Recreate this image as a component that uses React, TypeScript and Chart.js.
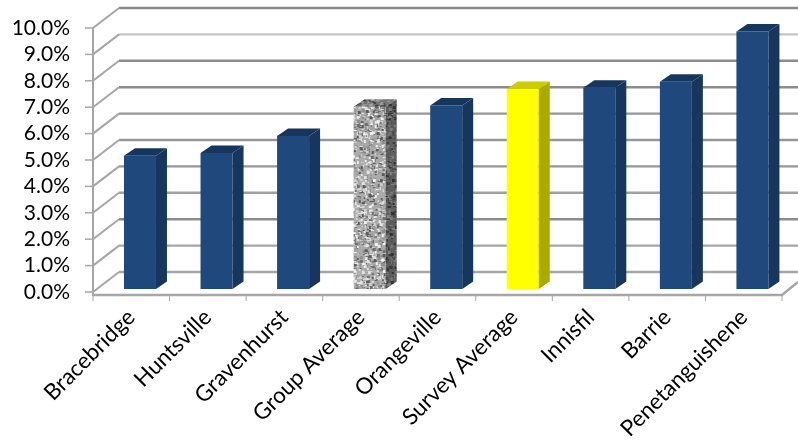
import React, { useEffect, useRef } from "react";
import { Chart, registerables } from "chart.js";

Chart.register(...registerables);

const categories = ["Bracebridge", "Huntsville", "Gravenhurst", "Group Average", "Orangeville", "Survey Average", "Innisfil", "Barrie", "Penetanguishene"];
const values = [5.05, 5.15, 5.8, 6.9, 6.95, 7.58, 7.62, 7.85, 9.75];
const frontColors = ["#1F497D", "#1F497D", "#1F497D", "granite", "#1F497D", "#FFFF00", "#1F497D", "#1F497D", "#1F497D"];
const sideColors = ["#17365D", "#17365D", "#17365D", "granite", "#17365D", "#AAAA00", "#17365D", "#17365D", "#17365D"];
const topColors = ["#17365D", "#17365D", "#17365D", "granite", "#17365D", "#CCCC00", "#17365D", "#17365D", "#17365D"];
const gridColors = ["#A6A6A6", "#A6A6A6", "#8C8C8C", "#A0A0A0", "#969696", "#969696", "#969696", "#8C8C8C", "#8C8C8C", "#C4C4C4", "#8C8C8C"];

const FONT = "Lato, Carlito, Calibri, sans-serif";
const WALL_DX = 26;
const WALL_DY = 20;
const BAR_DX = 8.7;
const BAR_DY = 3;
const SIDE_DX = 11;
const SIDE_DY = 7.5;

function makeGranite(): HTMLCanvasElement {
  const tile = document.createElement("canvas");
  tile.width = 97;
  tile.height = 211;
  const c = tile.getContext("2d")!;
  c.fillStyle = "#ABABAB";
  c.fillRect(0, 0, 97, 211);
  const shades = ["#6E6E6E", "#E2E2E2", "#8E8E8E", "#D0D0D0", "#F0F0F0", "#5A5A5A", "#A0A0A0"];
  let s = 17;
  for (let i = 0; i < 3600; i++) {
    s = (s * 1103 + 12345) % 65536;
    const x = (s >> 3) % 97;
    s = (s * 1103 + 12345) % 65536;
    const y = (s >> 3) % 211;
    s = (s * 1103 + 12345) % 65536;
    const k = s >> 4;
    c.fillStyle = shades[k % shades.length];
    c.fillRect(x, y, 1 + (k % 3), 1 + ((k >> 2) % 3));
  }
  return tile;
}

export default function App() {
  const ref = useRef<HTMLCanvasElement>(null);

  useEffect(() => {
    document.body.style.margin = "0";
    const canvas = ref.current!;
    const ctx0 = canvas.getContext("2d")!;
    const pattern = ctx0.createPattern(makeGranite(), "repeat")!;

    const wallPlugin = {
      id: "wall3d",
      beforeDatasetsDraw(chart: any) {
        const { ctx, scales } = chart;
        const y = scales.y;
        const x = scales.x;
        const left = x.left;
        const right = x.right;
        const floor = y.getPixelForValue(0) + 3;
        ctx.save();
        ctx.lineCap = "butt";
        y.ticks.forEach((t: any, i: number) => {
          const py = y.getPixelForValue(t.value);
          ctx.strokeStyle = gridColors[i];
          ctx.lineWidth = 2.4;
          ctx.beginPath();
          ctx.moveTo(left + WALL_DX, py - WALL_DY);
          ctx.lineTo(chart.width, py - WALL_DY);
          ctx.stroke();
          ctx.strokeStyle = "#A6A6A6";
          ctx.lineWidth = 2;
          ctx.beginPath();
          ctx.moveTo(left, py);
          ctx.lineTo(left + WALL_DX, py - WALL_DY);
          ctx.stroke();
          ctx.strokeStyle = "#A6A6A6";
          ctx.lineWidth = 1.5;
          ctx.beginPath();
          ctx.moveTo(left - 8, py);
          ctx.lineTo(left, py);
          ctx.stroke();
        });
        ctx.strokeStyle = "#A6A6A6";
        ctx.lineWidth = 2;
        ctx.beginPath();
        ctx.moveTo(left, y.getPixelForValue(10));
        ctx.lineTo(left, floor + 1);
        ctx.stroke();
        ctx.lineWidth = 2.4;
        ctx.strokeStyle = "#A6A6A6";
        ctx.beginPath();
        ctx.moveTo(left, floor);
        ctx.lineTo(right, floor);
        ctx.lineTo(chart.width, floor - 13);
        ctx.stroke();
        ctx.lineWidth = 1;
        ctx.strokeStyle = "#A6A6A6";
        const step = (right - left) / categories.length;
        categories.forEach((_, i) => {
          ctx.beginPath();
          ctx.moveTo(left + step * i, floor);
          ctx.lineTo(left + step * i, floor + 6);
          ctx.stroke();
        });
        ctx.beginPath();
        ctx.moveTo(right, floor);
        ctx.lineTo(right, floor + 6);
        ctx.stroke();
        ctx.restore();
        ctx.save();
        ctx.translate(BAR_DX, -BAR_DY);
      },
      afterDatasetsDraw(chart: any) {
        const { ctx } = chart;
        const meta = chart.getDatasetMeta(0);
        meta.data.forEach((bar: any, i: number) => {
          const xl = bar.x - bar.width / 2;
          const xr = bar.x + bar.width / 2;
          const top = bar.y;
          const base = bar.base;
          const side = () => {
            ctx.beginPath();
            ctx.moveTo(xr, top);
            ctx.lineTo(xr + SIDE_DX, top - SIDE_DY);
            ctx.lineTo(xr + SIDE_DX, base - SIDE_DY);
            ctx.lineTo(xr, base);
            ctx.closePath();
          };
          const cap = () => {
            ctx.beginPath();
            ctx.moveTo(xl, top);
            ctx.lineTo(xl + SIDE_DX, top - SIDE_DY);
            ctx.lineTo(xr + SIDE_DX, top - SIDE_DY);
            ctx.lineTo(xr, top);
            ctx.closePath();
          };
          if (sideColors[i] === "granite") {
            ctx.fillStyle = pattern;
            side();
            ctx.fill();
            ctx.fillStyle = "rgba(0,0,0,0.45)";
            side();
            ctx.fill();
            ctx.fillStyle = pattern;
            cap();
            ctx.fill();
            ctx.fillStyle = "rgba(0,0,0,0.3)";
            cap();
            ctx.fill();
          } else {
            ctx.fillStyle = sideColors[i];
            side();
            ctx.fill();
            ctx.fillStyle = topColors[i];
            cap();
            ctx.fill();
          }
        });
        ctx.restore();
      },
    };

    const chart = new Chart(canvas, {
      type: "bar",
      data: {
        labels: categories,
        datasets: [
          {
            data: values,
            backgroundColor: frontColors.map((c) => (c === "granite" ? pattern : c)) as any,
            borderWidth: 0,
            barPercentage: 1,
            categoryPercentage: 0.418,
          },
        ],
      },
      options: {
        animation: false,
        responsive: false,
        layout: { padding: { top: 28, right: 16, left: 0, bottom: 0 } },
        plugins: { legend: { display: false }, title: { display: false }, tooltip: { enabled: false } },
        scales: {
          x: {
            grid: { display: false, drawTicks: false },
            border: { display: false },
            ticks: {
              autoSkip: false,
              minRotation: 45,
              maxRotation: 45,
              padding: 12,
              color: "#000000",
              font: { family: FONT, size: 22.4 },
            },
            afterFit(scale: any) {
              scale.height = 151;
              scale.paddingLeft = 0;
              scale.paddingRight = 0;
            },
          },
          y: {
            min: 0,
            max: 10,
            grid: { display: false, drawTicks: false },
            border: { display: false },
            ticks: {
              autoSkip: false,
              stepSize: 1,
              padding: 23,
              color: "#000000",
              font: { family: FONT, size: 21 },
              callback: (v: any) => Number(v).toFixed(1) + "%",
            },
            afterFit(scale: any) {
              scale.width = 93;
              scale.paddingTop = 0;
              scale.paddingBottom = 0;
            },
          },
        },
      },
      plugins: [wallPlugin],
    });
    return () => chart.destroy();
  }, []);

  return <canvas ref={ref} width={798} height={443} style={{ display: "block", position: "absolute", left: 0, top: 0 }} />;
}
